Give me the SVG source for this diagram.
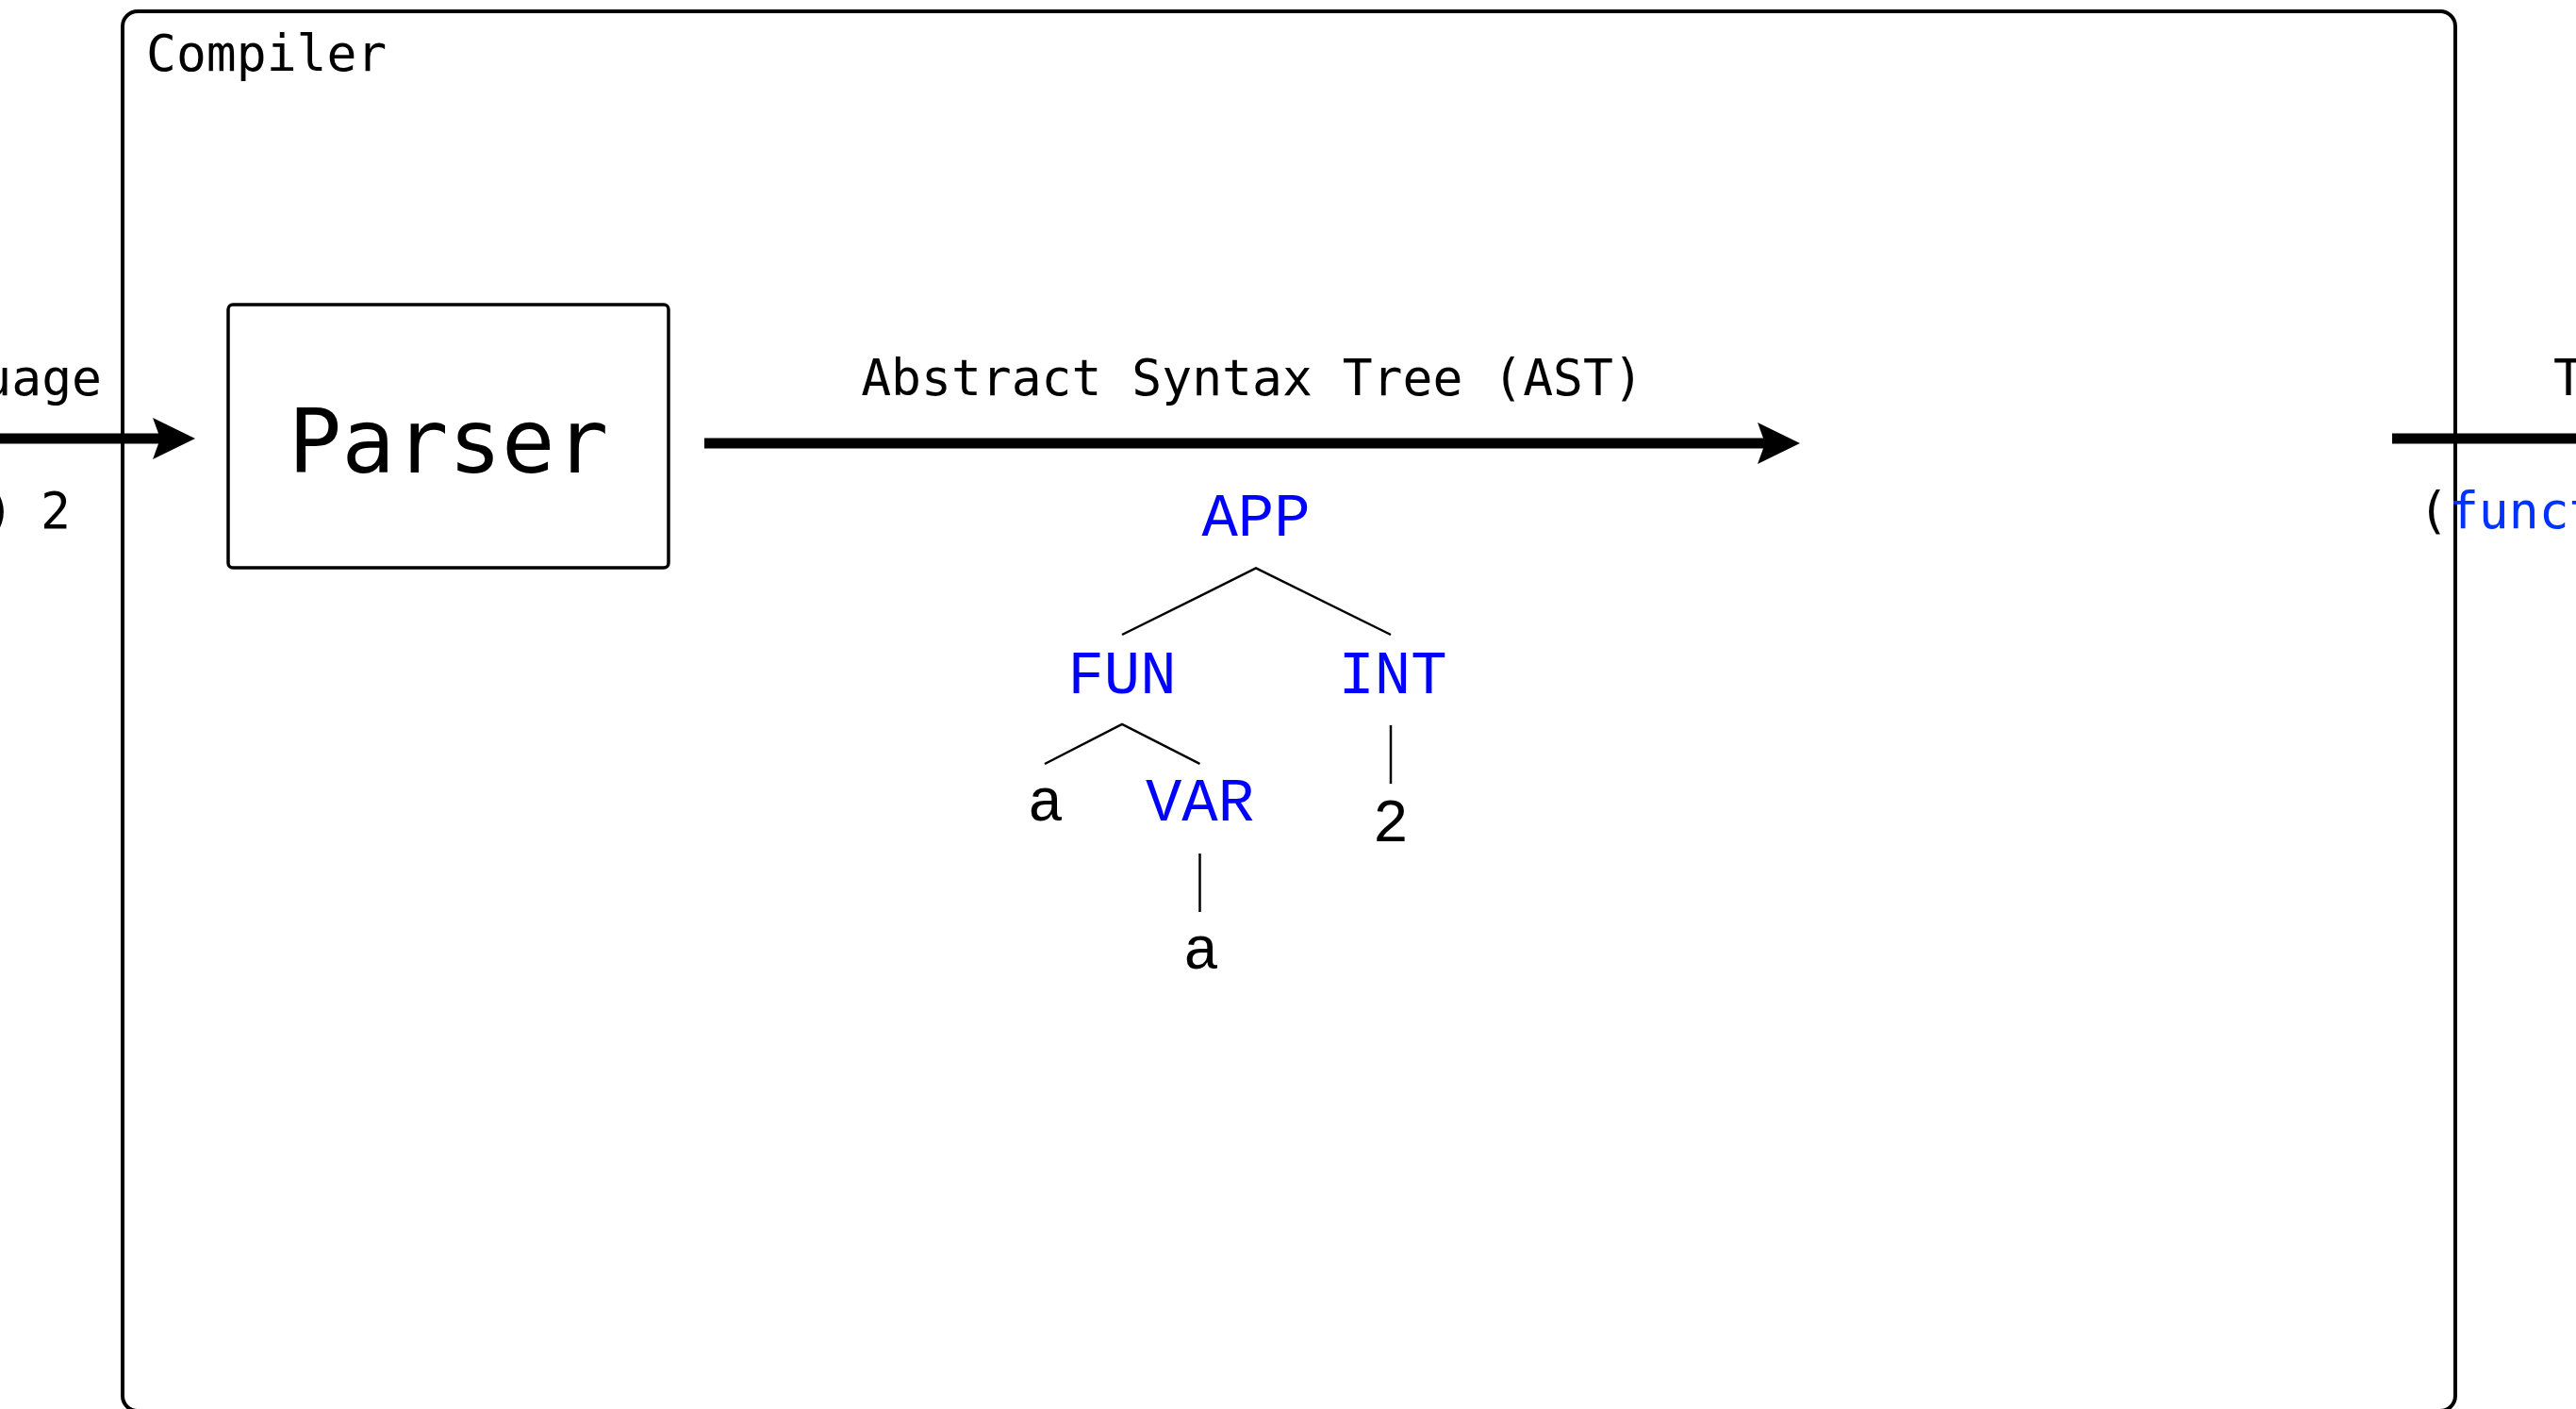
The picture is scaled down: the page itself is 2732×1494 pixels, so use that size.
<svg xmlns="http://www.w3.org/2000/svg" width="2732" height="1494" viewBox="0 0 2732 1494">
  <style>
    .label { font-family: "DejaVu Sans Mono", "Liberation Mono", monospace; font-size: 53px; fill: #000; }
    .big { font-family: "DejaVu Sans Mono", "Liberation Mono", monospace; font-size: 94px; fill: #000; }
    .tree { font-family: "Liberation Mono", "DejaVu Sans Mono", monospace; font-size: 64px; text-anchor: middle; }
    .kw { fill: #0000ff; }
    .leaf { fill: #000; }
    .code-kw { fill: #0033ff; }
    .flow { stroke: #000; stroke-width: 11; fill: none; }
    .branch { stroke: #000; stroke-width: 2.5; fill: none; }
  </style>
  <defs>
    <marker id="head" markerUnits="userSpaceOnUse" viewBox="0 -22 45 44" markerWidth="45" markerHeight="44" refX="8" refY="0" orient="auto">
      <path d="M0,-22 L45,0 L0,22 L8,0 Z" fill="#000"/>
    </marker>
  </defs>

  <rect width="2732" height="1494" fill="#fff"/>

  <!-- compiler boundary -->
  <g id="compiler">
    <rect x="130" y="12" width="2474" height="1484" rx="16" ry="16" fill="none" stroke="#000" stroke-width="4"/>
    <text class="label" x="155" y="75">Compiler</text>
  </g>

  <!-- parser stage -->
  <g id="parser">
    <rect x="242" y="323" width="467" height="279" rx="5" ry="5" fill="none" stroke="#000" stroke-width="3.5"/>
    <text class="big" x="475.5" y="501" text-anchor="middle">Parser</text>
  </g>

  <!-- connectors -->
  <g id="connectors">
    <line class="flow" x1="-10" y1="465" x2="170" y2="465" marker-end="url(#head)"/>
    <line class="flow" x1="747" y1="470" x2="1872" y2="470" marker-end="url(#head)"/>
    <line class="flow" x1="2537" y1="465" x2="2745" y2="465"/>
  </g>

  <!-- edge labels -->
  <g id="input-label">
    <text class="label" x="108" y="419" text-anchor="end">uage</text>
    <text class="label" x="-17" y="560">)<tspan x="43">2</tspan></text>
  </g>
  <g id="ast-label">
    <text class="label" x="1328" y="419" text-anchor="middle">Abstract Syntax Tree (AST)</text>
  </g>
  <g id="output-label">
    <text class="label" x="2708" y="419">T</text>
    <text class="label" x="2565" y="560">(<tspan class="code-kw">funct</tspan></text>
  </g>

  <!-- syntax tree -->
  <g id="ast">
    <g id="ast-edges">
      <polyline class="branch" points="1190,673 1332,602.5 1475,673"/>
      <polyline class="branch" points="1108,810 1190,768 1272.5,810"/>
      <line class="branch" x1="1475" y1="769" x2="1475" y2="831"/>
      <line class="branch" x1="1272.5" y1="905" x2="1272.5" y2="967"/>
    </g>
    <g id="node-app"><text class="tree kw" x="1332" y="568">APP</text></g>
    <g id="node-fun"><text class="tree kw" x="1190" y="735">FUN</text></g>
    <g id="node-int"><text class="tree kw" x="1477" y="735">INT</text></g>
    <g id="node-a"><text class="tree leaf" x="1109" y="870">a</text></g>
    <g id="node-var"><text class="tree kw" x="1272.5" y="870">VAR</text></g>
    <g id="node-2"><text class="tree leaf" x="1475" y="892">2</text></g>
    <g id="node-var-a"><text class="tree leaf" x="1274" y="1027">a</text></g>
  </g>
</svg>
